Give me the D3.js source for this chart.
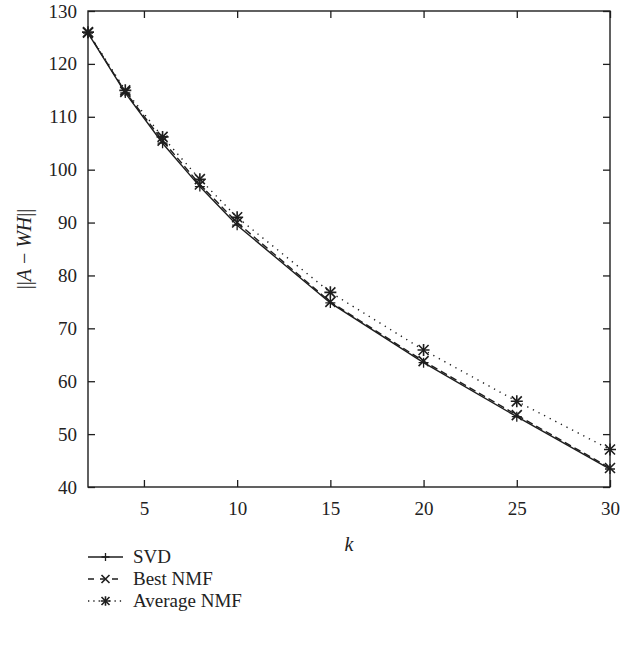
<!DOCTYPE html>
<html>
<head>
<meta charset="utf-8">
<script src="https://cdn.jsdelivr.net/npm/d3@7"></script>
<style>
  body { margin: 0; background: #fff; }
  text { font-family: "Liberation Serif", "DejaVu Serif", serif; fill: #222; }
</style>
</head>
<body>
<div class="canvas"></div>
<script>
// values
const kValues = [2, 4, 6, 8, 10, 15, 20, 25, 30];
const svdErr = [125.8, 114.5, 105.0, 96.8, 89.5, 74.8, 63.5, 53.3, 43.4];
const bestNmfErr = [125.9, 114.7, 105.5, 97.2, 90.0, 75.0, 63.8, 53.6, 43.6];
const avgNmfErr = [126.0, 115.0, 106.2, 98.2, 91.0, 76.8, 65.9, 56.2, 47.1];
const xTicks = [5, 10, 15, 20, 25, 30];
const yTicks = [40, 50, 60, 70, 80, 90, 100, 110, 120, 130];
const seriesNames = ["SVD", "Best NMF", "Average NMF"];

const svg = d3.select(".canvas").append("svg").attr("width", 633).attr("height", 651);

const pLeft = 88, pRight = 610, pTop = 11, pBottom = 487;
const x = d3.scaleLinear().domain([2, 30]).range([pLeft, pRight]);
const y = d3.scaleLinear().domain([40, 130]).range([pBottom, pTop]);

const ink = "#1e1e1e";
const tickLen = 7;

// frame
svg.append("rect")
  .attr("x", pLeft).attr("y", pTop)
  .attr("width", pRight - pLeft).attr("height", pBottom - pTop)
  .attr("fill", "none").attr("stroke", ink).attr("stroke-width", 1.4);

// axes (ticks inward)
const styleAxis = (g) => {
  g.select(".domain").remove();
  g.selectAll(".tick line").attr("stroke", ink).attr("stroke-width", 1.3);
  g.selectAll(".tick text").attr("font-size", 19).attr("fill", ink)
    .style("font-family", '"Liberation Serif", "DejaVu Serif", serif');
};

svg.append("g").attr("transform", `translate(0,${pBottom})`)
  .call(d3.axisBottom(x).tickValues(xTicks).tickSizeInner(-tickLen).tickSizeOuter(0).tickPadding(15))
  .call(styleAxis);
svg.append("g").attr("transform", `translate(0,${pTop})`)
  .call(d3.axisTop(x).tickValues(xTicks).tickSizeInner(-tickLen).tickSizeOuter(0).tickFormat(""))
  .call(styleAxis);
svg.append("g").attr("transform", `translate(${pLeft},0)`)
  .call(d3.axisLeft(y).tickValues(yTicks).tickSizeInner(-tickLen).tickSizeOuter(0).tickPadding(11))
  .call(styleAxis);
svg.append("g").attr("transform", `translate(${pRight},0)`)
  .call(d3.axisRight(y).tickValues(yTicks).tickSizeInner(-tickLen).tickSizeOuter(0).tickFormat(""))
  .call(styleAxis);

// axis labels
svg.append("text")
  .attr("x", (pLeft + pRight) / 2).attr("y", 551)
  .attr("text-anchor", "middle").attr("font-size", 20).attr("font-style", "italic")
  .text("k");

const yl = svg.append("text")
  .attr("transform", `translate(31,${(pTop + pBottom) / 2}) rotate(-90)`)
  .attr("text-anchor", "middle").attr("font-size", 20);
yl.append("tspan").text("||");
yl.append("tspan").attr("font-style", "italic").text("A");
yl.append("tspan").text(" − ");
yl.append("tspan").attr("font-style", "italic").text("WH");
yl.append("tspan").text("||");

// markers
const plusMark = (g, cx, cy, s) => {
  g.append("path").attr("d", `M${cx - s},${cy}H${cx + s}M${cx},${cy - s}V${cy + s}`)
    .attr("stroke", ink).attr("stroke-width", 1.3).attr("fill", "none");
};
const crossMark = (g, cx, cy, s) => {
  g.append("path").attr("d", `M${cx - s},${cy - s}L${cx + s},${cy + s}M${cx - s},${cy + s}L${cx + s},${cy - s}`)
    .attr("stroke", ink).attr("stroke-width", 1.6).attr("fill", "none");
};
const starMark = (g, cx, cy, s) => {
  crossMark(g, cx, cy, s);
  g.append("path").attr("d", `M${cx - s * 1.2},${cy}H${cx + s * 1.2}M${cx},${cy - s * 1.2}V${cy + s * 1.2}`)
    .attr("stroke", ink).attr("stroke-width", 1.6).attr("fill", "none");
};

const series = [
  { name: seriesNames[0], vals: svdErr, dash: null, mark: plusMark, size: 5 },
  { name: seriesNames[1], vals: bestNmfErr, dash: "7,4", mark: crossMark, size: 5 },
  { name: seriesNames[2], vals: avgNmfErr, dash: "1.3,5", mark: starMark, size: 5 },
];

const line = d3.line().x((d) => x(d[0])).y((d) => y(d[1]));

const plot = svg.append("g");
series.forEach((s) => {
  const pts = kValues.map((k, i) => [k, s.vals[i]]);
  plot.append("path")
    .attr("d", line(pts))
    .attr("fill", "none").attr("stroke", ink).attr("stroke-width", 1.4)
    .attr("stroke-dasharray", s.dash);
  pts.forEach((p) => s.mark(plot, x(p[0]), y(p[1]), s.size));
});

// legend
const legend = svg.append("g");
series.forEach((s, i) => {
  const ly = 557 + i * 22;
  legend.append("line")
    .attr("x1", 88).attr("x2", 123).attr("y1", ly).attr("y2", ly)
    .attr("stroke", ink).attr("stroke-width", 1.3)
    .attr("stroke-dasharray", s.dash === "7,4" ? "6,6" : s.dash === null ? null : "1.3,4");
  s.mark(legend, 105.5, ly, 4);
  legend.append("text").attr("x", 133).attr("y", ly + 6).attr("font-size", 19).text(s.name);
});
</script>
</body>
</html>
